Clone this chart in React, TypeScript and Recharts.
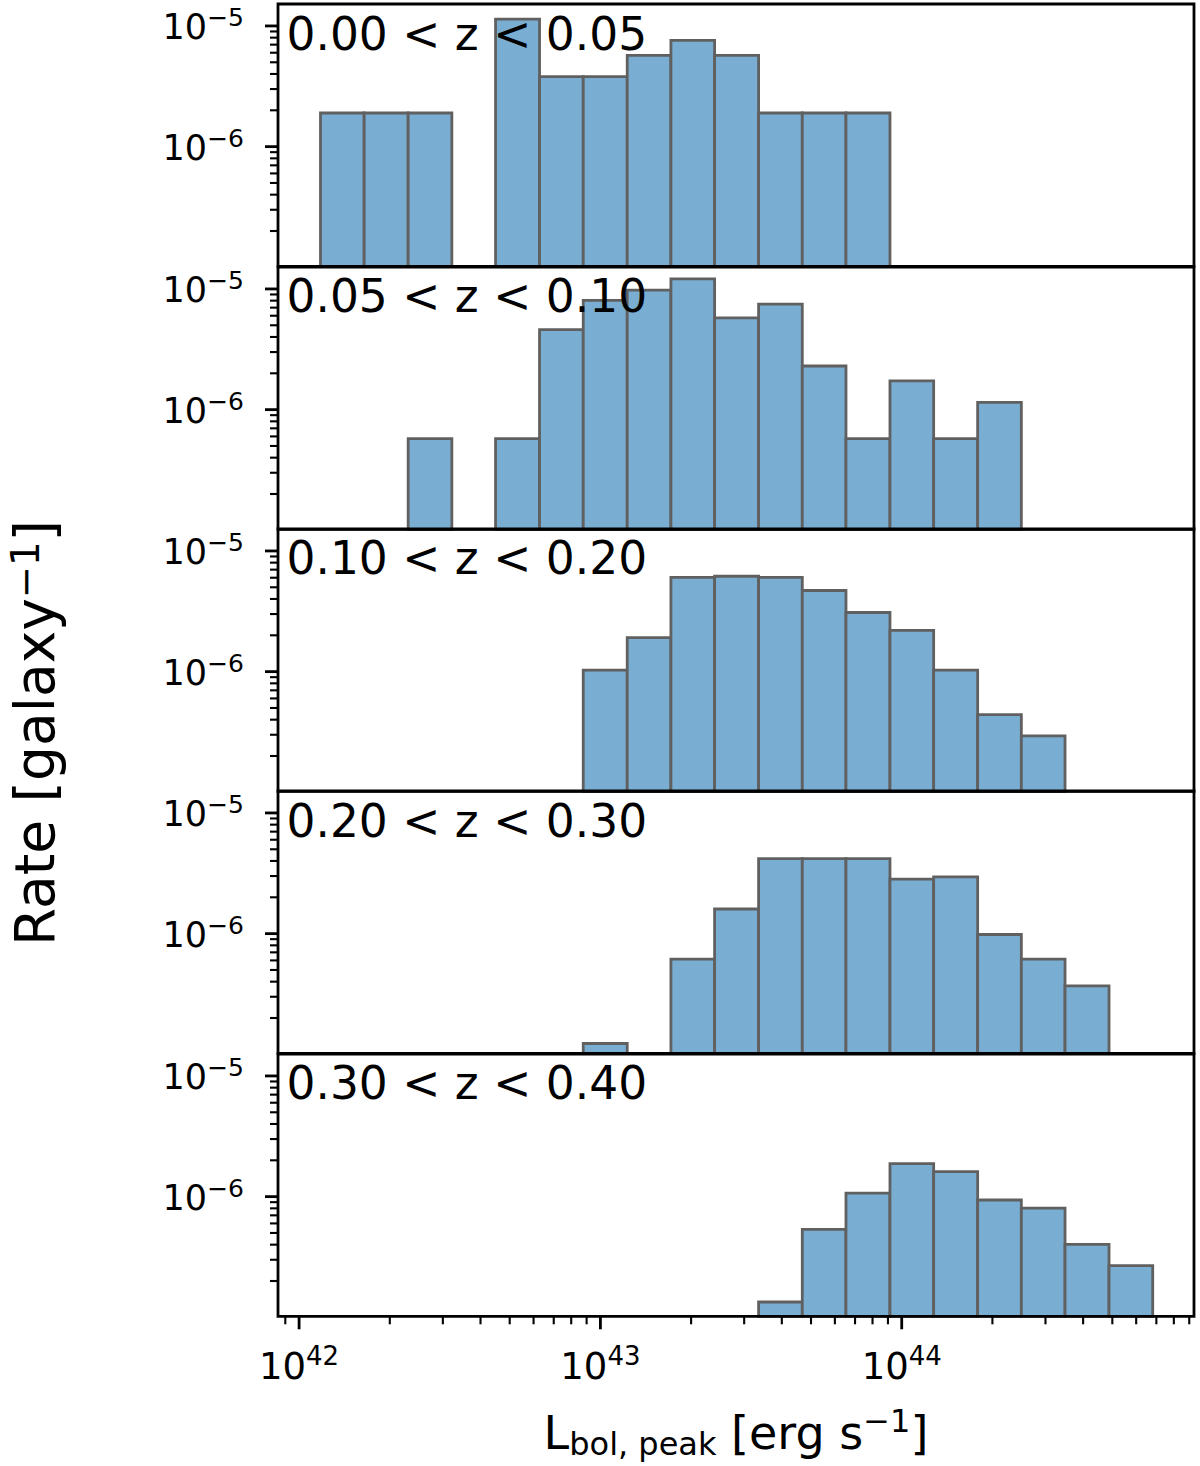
import React from 'react';
import { ComposedChart, XAxis, YAxis, ReferenceArea } from 'recharts';

const FONT = "'DejaVu Sans', 'Liberation Sans', sans-serif";

// log10 of the bin edges of L_bol,peak [erg/s]
const binEdgesLog = [
  42.071, 42.216, 42.362, 42.507, 42.652, 42.798, 42.943, 43.089, 43.234, 43.379,
  43.525, 43.67, 43.815, 43.961, 44.106, 44.252, 44.397, 44.542, 44.688, 44.833,
];

const panelLabels = [
  '0.00 < z < 0.05',
  '0.05 < z < 0.10',
  '0.10 < z < 0.20',
  '0.20 < z < 0.30',
  '0.30 < z < 0.40',
];

// rate per galaxy in each bin (0 = empty bin)
const rateZ000_005 = [1.9e-6, 1.9e-6, 1.9e-6, 0, 1.14e-5, 3.8e-6, 3.8e-6, 5.7e-6, 7.6e-6, 5.7e-6, 1.9e-6, 1.9e-6, 1.9e-6, 0, 0, 0, 0, 0, 0];
const rateZ005_010 = [0, 0, 5.75e-7, 0, 5.75e-7, 4.6e-6, 8.05e-6, 9.78e-6, 1.21e-5, 5.75e-6, 7.48e-6, 2.3e-6, 5.75e-7, 1.73e-6, 5.75e-7, 1.15e-6, 0, 0, 0];
const rateZ010_020 = [0, 0, 0, 0, 0, 0, 1.03e-6, 1.91e-6, 6.03e-6, 6.17e-6, 6.03e-6, 4.7e-6, 3.09e-6, 2.2e-6, 1.03e-6, 4.41e-7, 2.94e-7, 0, 0];
const rateZ020_030 = [0, 0, 0, 0, 0, 0, 1.23e-7, 0, 6.15e-7, 1.6e-6, 4.18e-6, 4.18e-6, 4.18e-6, 2.83e-6, 2.95e-6, 9.84e-7, 6.15e-7, 3.69e-7, 0];
const rateZ030_040 = [0, 0, 0, 0, 0, 0, 0, 0, 0, 0, 1.34e-7, 5.36e-7, 1.07e-6, 1.88e-6, 1.61e-6, 9.38e-7, 8.04e-7, 4.02e-7, 2.68e-7];

const panelRates = [rateZ000_005, rateZ005_010, rateZ010_020, rateZ020_030, rateZ030_040];

const xDomain: [number, number] = [41.93, 44.97];
const yDomain: [number, number] = [1.02e-7, 1.52e-5];

const xMajorDecades = [42, 43, 44];
const yMajorValues = [1e-6, 1e-5];
const minorMultipliers = [2, 3, 4, 5, 6, 7, 8, 9];

const xTicks: number[] = [];
[41, 42, 43, 44].forEach((d) => {
  if (xMajorDecades.includes(d)) xTicks.push(d);
  minorMultipliers.forEach((m) => {
    const t = d + Math.log10(m);
    if (t >= xDomain[0] && t <= xDomain[1]) xTicks.push(t);
  });
});
xTicks.sort((a, b) => a - b);

const yTicks: number[] = [...yMajorValues];
[1e-7, 1e-6, 1e-5].forEach((d) => {
  minorMultipliers.forEach((m) => {
    const t = m * d;
    if (t >= yDomain[0] && t <= yDomain[1]) yTicks.push(t);
  });
});
yTicks.sort((a, b) => a - b);

// layout
const PLOT_RIGHT = 1194;
const PLOT_LEFT = 278;
const PANEL_TOP0 = 4.3;
const PANEL_H = 262.3;
const PAD = 40;
const X_AXIS_H = 80;
const BOTTOM_SPACE = 150;

const BAR_FILL = '#79add2';
const BAR_EDGE = '#606060';

const MINUS = '\u2212';

function YTick(props: any) {
  const { x, y, payload } = props;
  const v = payload.value as number;
  const e = Math.log10(v);
  const major = Math.abs(e - Math.round(e)) < 1e-6;
  const len = major ? 13 : 8;
  return (
    <g>
      <line x1={x - len} x2={x} y1={y} y2={y} stroke="#000" strokeWidth={major ? 2.8 : 2.1} />
      {major && (
        <text x={x - 34} y={y + 13} textAnchor="end" fontFamily={FONT} fontSize={35} fill="#000">
          <tspan>10</tspan>
          <tspan dy={-13} fontSize={25}>
            {(Math.round(e) < 0 ? MINUS : '') + Math.abs(Math.round(e))}
          </tspan>
        </text>
      )}
    </g>
  );
}

function XTick(props: any) {
  const { x, y, payload } = props;
  const v = payload.value as number;
  const major = Math.abs(v - Math.round(v)) < 1e-6;
  const len = major ? 13 : 8;
  return (
    <g>
      <line x1={x} x2={x} y1={y} y2={y + len} stroke="#000" strokeWidth={major ? 2.8 : 2.1} />
      {major && (
        <text x={x} y={y + 63} textAnchor="middle" fontFamily={FONT} fontSize={37} fill="#000">
          <tspan>10</tspan>
          <tspan dy={-14} fontSize={26}>
            {String(Math.round(v))}
          </tspan>
        </text>
      )}
    </g>
  );
}

function Panel({ index }: { index: number }) {
  const rates = panelRates[index];
  const last = index === panelRates.length - 1;
  const bottom = last ? BOTTOM_SPACE - X_AXIS_H : PAD;
  const totalBottom = last ? BOTTOM_SPACE : PAD;
  const top = PANEL_TOP0 + index * PANEL_H - PAD;
  return (
    <div style={{ position: 'absolute', left: 0, top }}>
      <ComposedChart
        width={1200}
        height={PANEL_H + PAD + totalBottom}
        margin={{ top: PAD, right: 1200 - PLOT_RIGHT, bottom, left: 0 }}
      >
        <XAxis
          type="number"
          dataKey="x"
          domain={xDomain}
          allowDataOverflow
          ticks={xTicks}
          interval={0}
          tick={<XTick />}
          tickLine={false}
          axisLine={false}
          tickSize={0}
          tickMargin={0}
          height={last ? X_AXIS_H : 0}
          hide={!last}
        />
        <YAxis
          type="number"
          scale="log"
          domain={yDomain}
          allowDataOverflow
          ticks={yTicks}
          interval={0}
          tick={<YTick />}
          tickLine={false}
          axisLine={false}
          tickSize={0}
          tickMargin={0}
          width={PLOT_LEFT}
        />
        {rates.map((r, i) =>
          r > 0 ? (
            <ReferenceArea
              key={'bar' + i}
              x1={binEdgesLog[i]}
              x2={binEdgesLog[i + 1]}
              y1={yDomain[0]}
              y2={r}
              fill={BAR_FILL}
              fillOpacity={1}
              stroke={BAR_EDGE}
              strokeWidth={2.8}
              ifOverflow="visible"
            />
          ) : null
        )}
        <ReferenceArea
          x1={xDomain[0]}
          x2={xDomain[1]}
          y1={yDomain[0]}
          y2={yDomain[1]}
          fill="none"
          fillOpacity={0}
          stroke="#000"
          strokeWidth={2.8}
          ifOverflow="visible"
        />
      </ComposedChart>
    </div>
  );
}

export default function App() {
  return (
    <div style={{ position: 'absolute', left: 0, top: 0, width: 1200, height: 1466, background: '#fff' }}>
      {panelRates.map((_, i) => (
        <Panel key={i} index={i} />
      ))}
      <svg
        width={1200}
        height={1466}
        style={{ position: 'absolute', left: 0, top: 0, pointerEvents: 'none' }}
      >
        {panelLabels.map((t, i) => (
          <text
            key={i}
            x={286.5}
            y={PANEL_TOP0 + i * PANEL_H + 45.3}
            fontFamily={FONT}
            fontSize={45.5}
            fill="#000"
          >
            {t}
          </text>
        ))}
        <text
          transform="translate(54,733) rotate(-90)"
          textAnchor="middle"
          fontFamily={FONT}
          fontSize={55}
          fill="#000"
        >
          <tspan>Rate [galaxy</tspan>
          <tspan dy={-15} fontSize={38.5}>{MINUS + '1'}</tspan>
          <tspan dy={15}>]</tspan>
        </text>
        <text x={736} y={1449} textAnchor="middle" fontFamily={FONT} fontSize={46} fill="#000">
          <tspan>L</tspan>
          <tspan dy={6} fontSize={32}>bol, peak</tspan>
          <tspan dy={-6}>{' [erg s'}</tspan>
          <tspan dy={-17} fontSize={32}>{MINUS + '1'}</tspan>
          <tspan dy={17}>]</tspan>
        </text>
      </svg>
    </div>
  );
}
